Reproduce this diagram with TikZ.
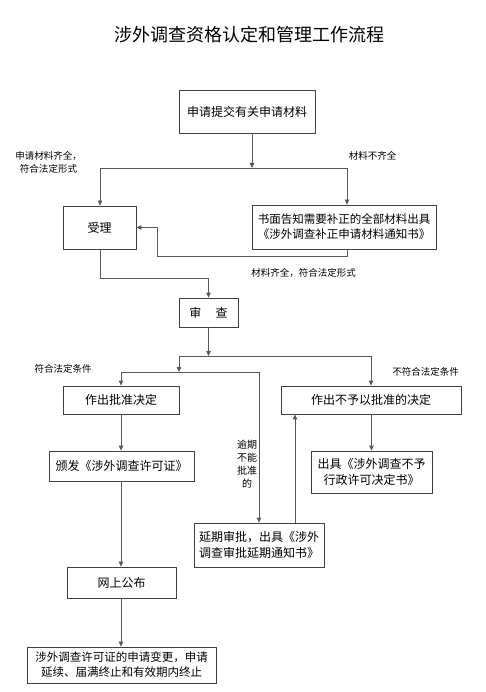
\documentclass[tikz,border=0pt]{standalone}
\usepackage{fontspec}
\setmainfont{Noto Sans CJK SC}
\usetikzlibrary{arrows.meta}
\begin{document}
\begin{tikzpicture}[x=1pt,y=-1pt,
  box/.style={draw=black!75,line width=0.8pt,inner sep=0pt,align=center,font=\fontsize{12}{15.5}\selectfont},
  longbox/.style={box,font=\fontsize{11.5}{15}\selectfont},
  lbl/.style={inner sep=0pt,align=center,font=\fontsize{9.5}{13}\selectfont},
  conn/.style={draw=black!65,line width=0.8pt},
  arr/.style={conn,-{Triangle[width=4.5pt,length=5pt]}}]
\useasboundingbox (0,0) rectangle (486,692);
\node[inner sep=0pt,font=\fontsize{18}{20}\selectfont] (title) at (249,35) {涉外调查资格认定和管理工作流程};

\node[box,minimum width=136pt,minimum height=43pt] (b1) at (247,111.5) {申请提交有关申请材料};
\node[box,minimum width=73pt,minimum height=43pt] (shouli) at (99.5,227.5) {受理};
\node[longbox,minimum width=184pt,minimum height=44pt] (buzheng) at (344,227) {书面告知需要补正的全部材料出具\\《涉外调查补正申请材料通知书》};
\node[box,minimum width=59pt,minimum height=29pt] (shencha) at (208.5,312.5) {审\hspace{1.2em}查};
\node[box,minimum width=116pt,minimum height=28pt] (pizhun) at (121,400) {作出批准决定};
\node[box,minimum width=180pt,minimum height=28pt] (bupizhun) at (371,400) {作出不予以批准的决定};
\node[box,minimum width=145pt,minimum height=30pt] (banfa) at (121.5,466) {颁发《涉外调查许可证》};
\node[box,minimum width=121pt,minimum height=42pt] (chuju) at (371.5,472) {出具《涉外调查不予\\行政许可决定书》};
\node[box,minimum width=130pt,minimum height=44pt] (yanqi) at (259,545) {延期审批，出具《涉外\\调查审批延期通知书》};
\node[box,minimum width=109pt,minimum height=31pt] (wangshang) at (121.5,582.5) {网上公布};
\node[longbox,minimum width=189pt,minimum height=36pt] (last) at (121.5,665) {涉外调查许可证的申请变更，申请\\延续、届满终止和有效期内终止};

% labels
\node[lbl] (l1) at (48.5,162.5) {申请材料齐全，\\符合法定形式};
\node[lbl] (l2) at (372.5,156) {材料不齐全};
\node[lbl] (l3) at (303.5,273) {材料齐全，符合法定形式};
\node[lbl] (l4) at (63,369) {符合法定条件};
\node[lbl] (l5) at (425.5,372) {不符合法定条件};
\node[lbl,font=\fontsize{10}{13}\selectfont] (l6) at (247,464) {逾期\\不能\\批准\\的};

% coordinates
\coordinate (j1) at (252,168);
\coordinate (jl) at (100,168);
\coordinate (jr) at (347,168);
\coordinate (r1) at (347,256);
\coordinate (r2) at (157,256);
\coordinate (r3) at (157,227.5);
\coordinate (s1) at (100,278);
\coordinate (s2) at (208.5,278);
\coordinate (k1) at (208.5,356);
\coordinate (kl) at (179,356);
\coordinate (kr) at (371,356);
\coordinate (m1) at (179,372);
\coordinate (ml) at (121,372);
\coordinate (mr) at (259,372);
\coordinate (u1) at (295,545);

% connectors
\draw[arr] (b1.south -| j1) -- (j1);
\draw[conn] (jl) -- (jr);
\draw[arr] (jl) -- (shouli.north -| jl);
\draw[arr] (jr) -- (buzheng.north -| jr);
\draw[arr] (buzheng.south -| r1) -- (r1) -- (r2) -- (r3) -- (shouli.east);
\draw[arr] (shouli.south -| s1) -- (s1) -- (s2) -- (shencha.north);
\draw[arr] (shencha.south) -- (k1);
\draw[conn] (kl) -- (kr);
\draw[arr] (kr) -- (bupizhun.north -| kr);
\draw[arr] (kl) -- (m1);
\draw[conn] (ml) -- (mr);
\draw[arr] (ml) -- (pizhun.north -| ml);
\draw[arr] (mr) -- (yanqi.north -| mr);
\draw[arr] (pizhun.south) -- (banfa.north -| pizhun.south);
\draw[arr] (bupizhun.south -| chuju.north) -- (chuju.north);
\draw[arr] (yanqi.north -| u1) -- (bupizhun.south -| u1);
\draw[arr] (banfa.south -| pizhun.south) -- (wangshang.north -| pizhun.south);
\draw[arr] (wangshang.south -| pizhun.south) -- (last.north -| pizhun.south);
\end{tikzpicture}
\end{document}
